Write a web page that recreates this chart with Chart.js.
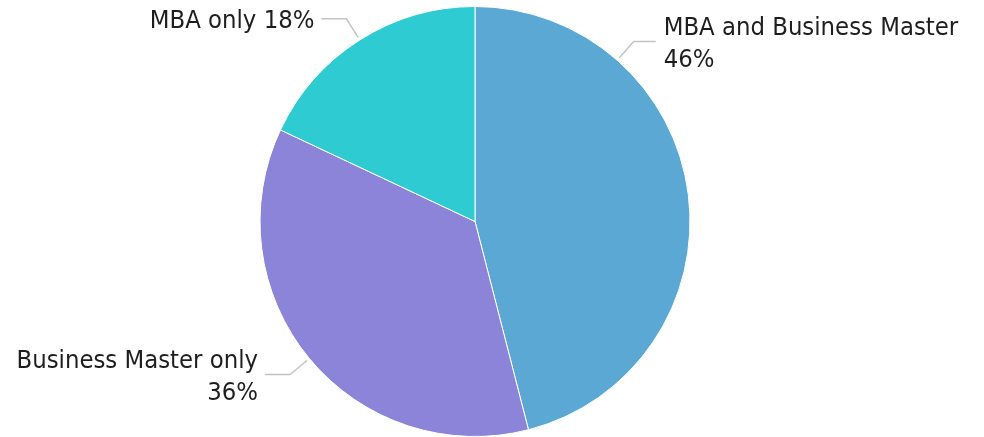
<!DOCTYPE html>
<html>
<head>
<meta charset="utf-8">
<script src="https://cdn.jsdelivr.net/npm/chart.js@4"></script>
<style>
  html, body { margin: 0; padding: 0; background: #ffffff; }
  #wrap { width: 984px; height: 437px; position: relative; }
</style>
</head>
<body>
<div id="wrap"><canvas id="c" width="984" height="437"></canvas></div>
<script>
const categories = ["MBA and Business Master", "Business Master only", "MBA only"];
const values = [46, 36, 18];
const sliceColors = ["#5BA8D4", "#8B84D8", "#2ECBD3"];
// where along each slice (0..1) the label leader starts
const labelAnchor = [0.25, 0.5, 0.5];
// label line breaks: label text then percentage
const labelLayout = ["twoLine", "twoLine", "oneLine"];

const FONT = "25.4px 'DejaVu Sans Condensed', 'DejaVu Sans', sans-serif";

const labelPlugin = {
  id: 'leaderLabels',
  afterDatasetsDraw(chart) {
    const ctx = chart.ctx;
    const meta = chart.getDatasetMeta(0);
    const total = values.reduce((a, b) => a + b, 0);
    ctx.save();
    meta.data.forEach((arc, i) => {
      const p = arc.getProps(['x', 'y', 'startAngle', 'endAngle', 'outerRadius'], true);
      const ang = p.startAngle + (p.endAngle - p.startAngle) * labelAnchor[i];
      const r = p.outerRadius;
      const cos = Math.cos(ang), sin = Math.sin(ang);
      const x0 = p.x + cos * (r + 3), y0 = p.y + sin * (r + 3);
      const x1 = p.x + cos * (r + 25), y1 = p.y + sin * (r + 25);
      const right = cos >= 0;
      const x2 = x1 + (right ? 22 : -25);
      ctx.strokeStyle = "#C4C4C4";
      ctx.lineWidth = 1.5;
      ctx.beginPath();
      ctx.moveTo(x0, y0);
      ctx.lineTo(x1, y1);
      ctx.lineTo(x2, y1);
      ctx.stroke();

      const pct = Math.round(values[i] / total * 100) + "%";
      const lines = labelLayout[i] === "twoLine" ? [categories[i], pct] : [categories[i] + " " + pct];
      ctx.font = FONT;
      ctx.fillStyle = "#1E1E1E";
      ctx.textBaseline = "alphabetic";
      ctx.textAlign = right ? "left" : "right";
      const tx = x2 + (right ? 8 : -7);
      const cap = 18.5, lh = 32;
      const blockH = (lines.length - 1) * lh + cap;
      let by = y1 - blockH / 2 + cap;
      lines.forEach((ln, k) => {
        ctx.fillText(ln, tx, by + k * lh);
      });
    });
    ctx.restore();
  }
};

new Chart(document.getElementById('c'), {
  type: 'pie',
  data: {
    labels: categories,
    datasets: [{
      data: values,
      backgroundColor: sliceColors,
      borderColor: "#ffffff",
      borderWidth: 1
    }]
  },
  options: {
    responsive: false,
    animation: false,
    layout: { padding: { left: 0, right: 34, top: 6, bottom: 0 } },
    plugins: { legend: { display: false }, tooltip: { enabled: false } }
  },
  plugins: [labelPlugin]
});
</script>
</body>
</html>
